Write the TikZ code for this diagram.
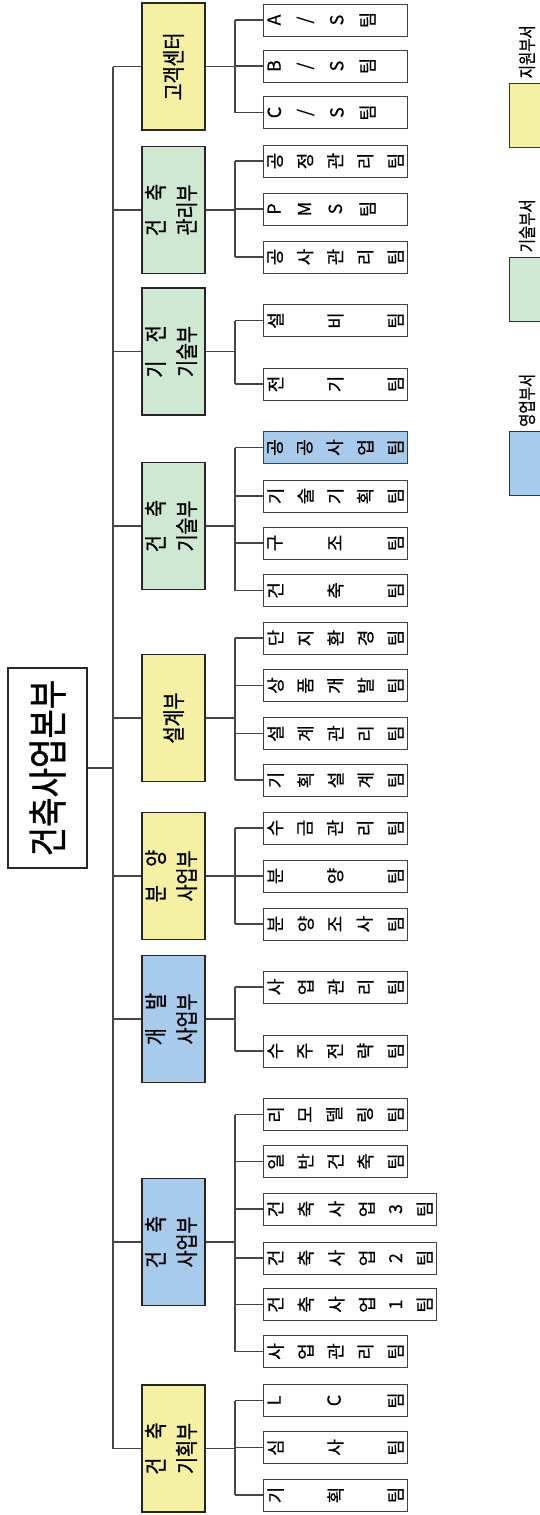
\documentclass[tikz,border=0pt]{standalone}
\usepackage{fontspec}
\usepackage{graphicx}
\setmainfont{Noto Sans CJK KR}
\newfontfamily\krw{Noto Sans CJK KR}[FakeStretch=0.8,FakeBold=0.8]
\newfontfamily\krt{Noto Sans CJK KR}[FakeBold=0.4]
\usetikzlibrary{positioning}

\definecolor{supyel}{RGB}{244,240,164}
\definecolor{techgrn}{RGB}{206,232,210}
\definecolor{salesblu}{RGB}{168,203,236}
\definecolor{linegray}{RGB}{70,70,70}

\newcommand\rc[1]{\raisebox{-.5\height}{\rotatebox{90}{#1}}}
\newcommand\tmt[3][136pt]{\makebox[#1][l]{\makebox[#2][s]{\foreach \ch [count=\n] in {#3} {\ifnum\n>1 \hfill\fi\rc{\ch}}}}}
\newcommand\dtx[2]{\rotatebox{90}{\begin{tabular}{@{}c@{}}#1\\#2\end{tabular}}}

\tikzset{
  dept/.style={draw=black!85, line width=1.3pt, minimum width=63pt, minimum height=127pt,
    inner sep=0pt, font=\krw\fontsize{23}{31}\selectfont},
  team/.style={draw=black!75, line width=1pt, fill=white, minimum width=144pt, minimum height=32pt,
    inner sep=0pt, anchor=west, font=\krt\fontsize{18}{18}\selectfont},
  wteam/.style={team, minimum width=173pt},
  conn/.style={draw=linegray, line width=1.1pt},
  legbox/.style={draw=black!80, line width=1pt, minimum width=36pt, minimum height=64pt},
  legtxt/.style={inner sep=0pt, font=\krw\fontsize{18}{18}\selectfont},
}

\begin{document}
\begin{tikzpicture}[x=1pt,y=-1pt]
 \xdef\tx{113}
 \xdef\sx{235}
 \xdef\dx{173.5}
 \xdef\mx{263}
 \useasboundingbox (0,0) rectangle (540,1515);
 \fill[white] (0,0) rectangle (540,1515);
 \coordinate (tx) at (\tx,0);
 \coordinate (sx) at (\sx,0);

 % head office
 \node[draw=black!85, line width=1.2pt, minimum width=79pt, minimum height=200pt,
   font=\krw\fontsize{40}{40}\selectfont] (root) at (47.5,768) {\rotatebox{90}{건축사업본부}};

 % departments
 \node[dept, fill=supyel]   (cs) at (\dx,66.5)  {\rotatebox{90}{고객센터}};
 \node[dept, fill=techgrn]  (cm) at (\dx,210)   {\dtx{건　축}{관리부}};
 \node[dept, fill=techgrn]  (ee) at (\dx,351.5) {\dtx{기　전}{기술부}};
 \node[dept, fill=techgrn]  (bt) at (\dx,526)   {\dtx{건　축}{기술부}};
 \node[dept, fill=supyel]   (ds) at (\dx,718)   {\rotatebox{90}{설계부}};
 \node[dept, fill=supyel]   (sl) at (\dx,876)   {\dtx{분　양}{사업부}};
 \node[dept, fill=salesblu] (dv) at (\dx,1019)  {\dtx{개　발}{사업부}};
 \node[dept, fill=salesblu] (bz) at (\dx,1242)  {\dtx{건　축}{사업부}};
 \node[dept, fill=supyel]   (pl) at (\dx,1448.5){\dtx{건　축}{기획부}};

 \draw[conn] (root.east) -- (root.east -| tx);
 \draw[conn] (cs.west -| tx) -- (pl.west -| tx);
 \foreach \d in {cs,cm,ee,bt,ds,sl,dv,bz,pl}
   \draw[conn] (\d.west -| tx) -- (\d.west);

 \begin{scope}
   \node[team] (cs1) at (\mx,20)    {\tmt{108pt}{A,/,S,팀}};
   \node[team] (cs2) at (\mx,66)    {\tmt{108pt}{B,/,S,팀}};
   \node[team] (cs3) at (\mx,112.5) {\tmt{108pt}{C,/,S,팀}};
   \draw[conn] (cs.east) -- (cs.east -| sx);
   \draw[conn] (cs1.west -| sx) -- (cs3.west -| sx);
   \foreach \t in {cs1,cs2,cs3} \draw[conn] (\t.west -| sx) -- (\t.west);
 \end{scope}

 \begin{scope}
   \node[team] (cm1) at (\mx,161) {\tmt{136pt}{공,정,관,리,팀}};
   \node[team] (cm2) at (\mx,209) {\tmt{108pt}{P,M,S,팀}};
   \node[team] (cm3) at (\mx,257) {\tmt{136pt}{공,사,관,리,팀}};
   \draw[conn] (cm.east) -- (cm.east -| sx);
   \draw[conn] (cm1.west -| sx) -- (cm3.west -| sx);
   \foreach \t in {cm1,cm2,cm3} \draw[conn] (\t.west -| sx) -- (\t.west);
 \end{scope}

 \begin{scope}
   \node[team] (ee1) at (\mx,320.5) {\tmt{136pt}{설,비,팀}};
   \node[team] (ee2) at (\mx,384)   {\tmt{136pt}{전,기,팀}};
   \draw[conn] (ee.east) -- (ee.east -| sx);
   \draw[conn] (ee1.west -| sx) -- (ee2.west -| sx);
   \foreach \t in {ee1,ee2} \draw[conn] (\t.west -| sx) -- (\t.west);
 \end{scope}

 \begin{scope}
   \node[team, fill=salesblu] (bt1) at (\mx,447.5) {\tmt{136pt}{공,공,사,업,팀}};
   \node[team] (bt2) at (\mx,496)   {\tmt{136pt}{기,술,기,획,팀}};
   \node[team] (bt3) at (\mx,543)   {\tmt{136pt}{구,조,팀}};
   \node[team] (bt4) at (\mx,590.5) {\tmt{136pt}{건,축,팀}};
   \draw[conn] (bt.east) -- (bt.east -| sx);
   \draw[conn] (bt1.west -| sx) -- (bt4.west -| sx);
   \foreach \t in {bt1,bt2,bt3,bt4} \draw[conn] (\t.west -| sx) -- (\t.west);
 \end{scope}

 \begin{scope}
   \node[team] (ds1) at (\mx,638)   {\tmt{136pt}{단,지,환,경,팀}};
   \node[team] (ds2) at (\mx,685.5) {\tmt{136pt}{상,품,개,발,팀}};
   \node[team] (ds3) at (\mx,733.5) {\tmt{136pt}{설,계,관,리,팀}};
   \node[team] (ds4) at (\mx,780)   {\tmt{136pt}{기,획,설,계,팀}};
   \draw[conn] (ds.east) -- (ds.east -| sx);
   \draw[conn] (ds1.west -| sx) -- (ds4.west -| sx);
   \foreach \t in {ds1,ds2,ds3,ds4} \draw[conn] (\t.west -| sx) -- (\t.west);
 \end{scope}

 \begin{scope}
   \node[team] (sl1) at (\mx,828) {\tmt{136pt}{수,금,관,리,팀}};
   \node[team] (sl2) at (\mx,876) {\tmt{136pt}{분,양,팀}};
   \node[team] (sl3) at (\mx,924) {\tmt{136pt}{분,양,조,사,팀}};
   \draw[conn] (sl.east) -- (sl.east -| sx);
   \draw[conn] (sl1.west -| sx) -- (sl3.west -| sx);
   \foreach \t in {sl1,sl2,sl3} \draw[conn] (\t.west -| sx) -- (\t.west);
 \end{scope}

 \begin{scope}
   \node[team] (dv1) at (\mx,987)  {\tmt{136pt}{사,업,관,리,팀}};
   \node[team] (dv2) at (\mx,1051) {\tmt{136pt}{수,주,전,략,팀}};
   \draw[conn] (dv.east) -- (dv.east -| sx);
   \draw[conn] (dv1.west -| sx) -- (dv2.west -| sx);
   \foreach \t in {dv1,dv2} \draw[conn] (\t.west -| sx) -- (\t.west);
 \end{scope}

 \begin{scope}
   \node[team]  (bz1) at (\mx,1114.5) {\tmt{136pt}{리,모,델,링,팀}};
   \node[team]  (bz2) at (\mx,1161.5) {\tmt{136pt}{일,반,건,축,팀}};
   \node[wteam] (bz3) at (\mx,1209)   {\tmt[165pt]{165pt}{건,축,사,업,3,팀}};
   \node[wteam] (bz4) at (\mx,1258)   {\tmt[165pt]{165pt}{건,축,사,업,2,팀}};
   \node[wteam] (bz5) at (\mx,1304.5) {\tmt[165pt]{165pt}{건,축,사,업,1,팀}};
   \node[team]  (bz6) at (\mx,1351.5) {\tmt{136pt}{사,업,관,리,팀}};
   \draw[conn] (bz.east) -- (bz.east -| sx);
   \draw[conn] (bz1.west -| sx) -- (bz6.west -| sx);
   \foreach \t in {bz1,bz2,bz3,bz4,bz5,bz6} \draw[conn] (\t.west -| sx) -- (\t.west);
 \end{scope}

 \begin{scope}
   \node[team] (pl1) at (\mx,1400.5) {\tmt{136pt}{L,C,팀}};
   \node[team] (pl2) at (\mx,1447.5) {\tmt{136pt}{심,사,팀}};
   \node[team] (pl3) at (\mx,1495)   {\tmt{136pt}{기,획,팀}};
   \draw[conn] (pl.east) -- (pl.east -| sx);
   \draw[conn] (pl1.west -| sx) -- (pl3.west -| sx);
   \foreach \t in {pl1,pl2,pl3} \draw[conn] (\t.west -| sx) -- (\t.west);
 \end{scope}

 % legend
 \node[legbox, fill=supyel]   (lgs) at (527,115)   {};
 \node[legbox, fill=techgrn]  (lgt) at (527,289)   {};
 \node[legbox, fill=salesblu] (lgb) at (527,463.5) {};
 \node[legtxt, above=4pt of lgs] (lgst) {\rotatebox{90}{지원부서}};
 \node[legtxt, above=4pt of lgt] (lgtt) {\rotatebox{90}{기술부서}};
 \node[legtxt, above=4pt of lgb] (lgbt) {\rotatebox{90}{영업부서}};
\end{tikzpicture}
\end{document}
